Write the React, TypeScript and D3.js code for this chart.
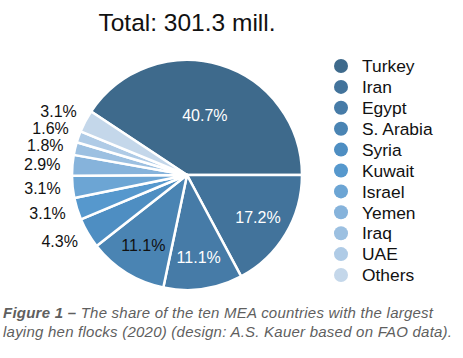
import React from "react";
import * as d3 from "d3";

const countries = ["Turkey", "Iran", "Egypt", "S. Arabia", "Syria", "Kuwait", "Israel", "Yemen", "Iraq", "UAE", "Others"];
const shares = [40.7, 17.2, 11.1, 11.1, 4.3, 3.1, 3.1, 2.9, 1.8, 1.6, 3.1];
const colors = ["#3e6a8c", "#42739b", "#467ba7", "#4a84b3", "#4e8ec2", "#5698cd", "#6ca5d4", "#86b3db", "#9cc0e1", "#afcbe6", "#c4d7ea"];
const insideLabelColors = ["#fff", "#fff", "#fff", "#111"];
const totalLabel = "Total: 301.3 mill.";
const captionBold = "Figure 1 –";
const captionLine1 = " The share of the ten MEA countries with the largest";
const captionLine2 = "laying hen flocks (2020) (design: A.S. Kauer based on FAO data).";

const W = 463;
const H = 358;

interface Slice {
  name: string;
  value: number;
  color: string;
}

export default function App() {
  const data: Slice[] = countries.map((name, i) => ({ name, value: shares[i], color: colors[i] }));
  const cx = 187;
  const cy = 175;
  const r = 115;
  const font = "'Liberation Sans', Arial, Helvetica, sans-serif";

  // Turkey ends at 3 o'clock, rest goes clockwise
  const start = Math.PI / 2 - (shares[0] / 100) * 2 * Math.PI;
  const pie = d3
    .pie<Slice>()
    .value((d) => d.value)
    .sort(null)
    .startAngle(start)
    .endAngle(start + 2 * Math.PI);
  const arcs = pie(data);
  const arc = d3.arc<d3.PieArcDatum<Slice>>().innerRadius(0).outerRadius(r);

  // inside labels
  const inside = arcs.slice(0, insideLabelColors.length).map((a, i) => {
    const mid = (a.startAngle + a.endAngle) / 2;
    const lr = a.data.value > 30 ? r * 0.54 : r * 0.72;
    return { x: lr * Math.sin(mid), y: -lr * Math.cos(mid), text: `${a.data.value}%`, fill: insideLabelColors[i] };
  });

  // outside labels, pushed apart vertically
  const outR = 130;
  const outside = arcs.slice(insideLabelColors.length).map((a) => {
    const mid = (a.startAngle + a.endAngle) / 2;
    return { mid, y: -outR * Math.cos(mid), text: `${a.data.value}%` };
  });
  const gap = 17;
  for (let i = 1; i < outside.length; i++) {
    if (outside[i - 1].y - outside[i].y < gap) outside[i].y = outside[i - 1].y - gap;
  }
  const outsidePos = outside.map((o) => {
    const yy = Math.max(-outR, Math.min(outR, o.y));
    return { x: -Math.sqrt(outR * outR - yy * yy) + 3, y: o.y, text: o.text };
  });

  const legendY = d3.scalePoint<string>().domain(countries).range([66, 275]);

  return (
    <svg
      width={W}
      height={H}
      style={{ position: "absolute", left: 0, top: 0, background: "#fff" }}
      fontFamily={font}
    >
      <text x={cx} y={31} textAnchor="middle" fontSize={24.5} fill="#111">
        {totalLabel}
      </text>

      <g transform={`translate(${cx},${cy})`}>
        {arcs.map((a) => (
          <path key={a.data.name} d={arc(a) || ""} fill={a.data.color} stroke="#fff" strokeWidth={2.5} strokeLinejoin="round" />
        ))}
        {inside.map((l, i) => (
          <text key={i} x={l.x} y={l.y} dy="0.36em" textAnchor="middle" fontSize={16} fill={l.fill}>
            {l.text}
          </text>
        ))}
        {outsidePos.map((l, i) => (
          <text key={i} x={l.x} y={l.y} dy="0.36em" textAnchor="end" fontSize={16} fill="#111">
            {l.text}
          </text>
        ))}
      </g>

      <g>
        {data.map((d) => (
          <g key={d.name} transform={`translate(341,${legendY(d.name)})`}>
            <circle r={7} fill={d.color} />
            <text x={21} dy="0.36em" fontSize={17.4} fill="#111">
              {d.name}
            </text>
          </g>
        ))}
      </g>

      <g fontStyle="italic" fontSize={15} fill="#5f5f5f">
        <text x={3} y={318} textLength={430} lengthAdjust="spacing">
          <tspan fontWeight="bold">{captionBold}</tspan>
          {captionLine1}
        </text>
        <text x={3} y={337} textLength={449} lengthAdjust="spacing">
          {captionLine2}
        </text>
      </g>
    </svg>
  );
}
